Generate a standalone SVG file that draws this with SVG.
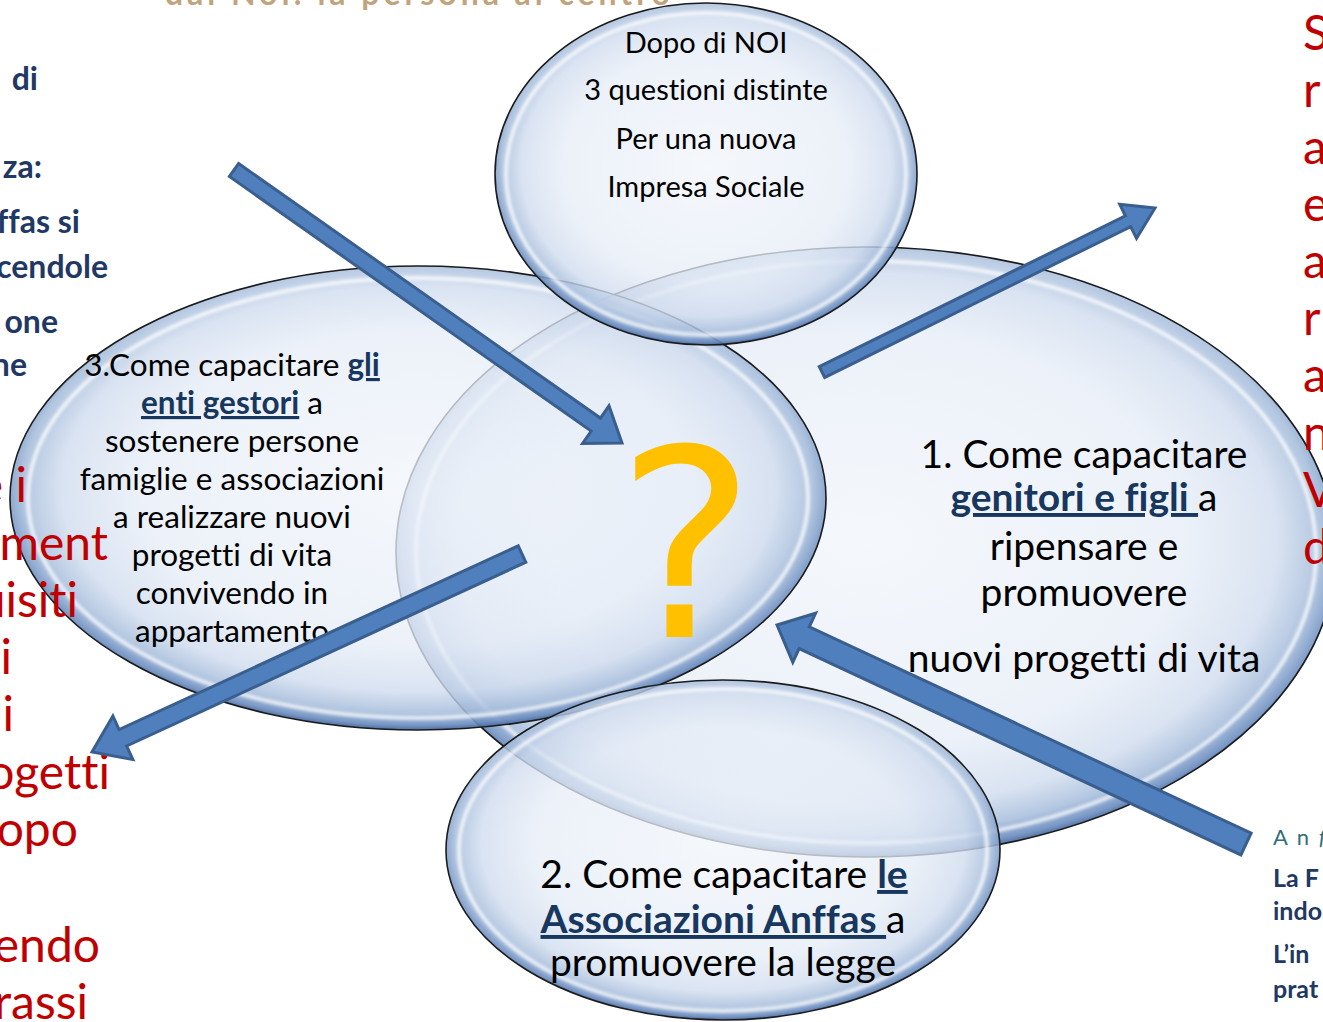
<svg xmlns="http://www.w3.org/2000/svg" width="1323" height="1022" viewBox="0 0 1323 1022">
<style>
text{font-variant-ligatures:none}
.bub{fill:url(#bubG);stroke:#1b1b1b;stroke-width:1.6}
.rim{fill:none;stroke:#ffffff;stroke-opacity:0.75;stroke-width:4}
.nt{font-family:Lato,"Open Sans",sans-serif;fill:#000;text-anchor:middle}
.ul{font-weight:bold;fill:#17375e;text-decoration:underline}
.red{font-family:Lato,"Open Sans",sans-serif;font-size:48px;fill:#c00000}
.navy{font-family:Lato,"Open Sans",sans-serif;font-size:32px;font-weight:bold;fill:#1f3864;text-anchor:end}
.br{font-family:Lato,"Open Sans",sans-serif;font-size:25px;font-weight:bold;fill:#1f3864}
.arr{fill:#4f7fbc;stroke:#3a5f8e;stroke-width:3;stroke-linejoin:miter}
</style>
<defs>
<radialGradient id="bubG" cx="50%" cy="48%" r="52%">
<stop offset="0%" stop-color="#f1f5fb" stop-opacity="0.75"/>
<stop offset="65%" stop-color="#e6edf7" stop-opacity="0.75"/>
<stop offset="84%" stop-color="#d0dcee" stop-opacity="0.8"/>
<stop offset="93%" stop-color="#a5bcdb" stop-opacity="0.85"/>
<stop offset="98%" stop-color="#6a8cbf" stop-opacity="0.9"/>
<stop offset="100%" stop-color="#46689b" stop-opacity="0.95"/>
</radialGradient>
<filter id="bl" x="-5%" y="-5%" width="110%" height="110%"><feGaussianBlur stdDeviation="1.5"/></filter>
</defs>
<rect width="1323" height="1022" fill="#ffffff"/>

<text x="165" y="5" font-family="Lato,sans-serif" font-size="32" font-weight="bold" fill="#b08a58" fill-opacity="0.8" textLength="505">dal Noi: la persona al centro</text>

<g id="node-right">
<ellipse class="bub" cx="866" cy="552" rx="470" ry="305"/>
<ellipse class="rim" cx="866" cy="552" rx="450" ry="291" filter="url(#bl)"/>
</g>
<g id="node-left">
<ellipse class="bub" cx="418" cy="498" rx="408" ry="232"/>
<ellipse class="rim" cx="418" cy="498" rx="390" ry="220" filter="url(#bl)"/>
</g>
<g id="node-bottom">
<ellipse class="bub" cx="723" cy="850" rx="277" ry="170"/>
<ellipse class="rim" cx="723" cy="850" rx="264" ry="161" filter="url(#bl)"/>
</g>
<g id="node-top">
<ellipse class="bub" cx="706" cy="174" rx="211" ry="171"/>
<ellipse class="rim" cx="706" cy="174" rx="200" ry="161" filter="url(#bl)"/>
</g>

<g id="bg-text-left">
<text class="navy" x="38" y="90">di</text>
<text class="navy" x="42" y="178">za:</text>
<text class="navy" x="80" y="233">ffas si</text>
<text class="navy" x="108" y="278">cendole</text>
<text class="navy" x="58" y="333">one</text>
<text class="navy" x="27" y="376">ne</text>
<g class="red" text-anchor="end">
<text x="27" y="502">e i</text>
<text x="108" y="560">ment</text>
<text x="78" y="617">uisiti</text>
<text x="12" y="674">i</text>
<text x="14" y="731">li</text>
<text x="110" y="789">ogetti</text>
<text x="78" y="846">opo</text>
<text x="100" y="962">endo</text>
<text x="88" y="1019">rassi</text>
</g>
</g>
<g id="bg-text-right" class="red" font-size="50">
<text x="1303" y="50">S</text>
<text x="1303" y="107">r</text>
<text x="1303" y="164">a</text>
<text x="1303" y="221">e</text>
<text x="1303" y="278">a</text>
<text x="1303" y="335">r</text>
<text x="1303" y="392">a</text>
<text x="1303" y="450">n</text>
<text x="1303" y="507">V</text>
<text x="1303" y="564">d</text>
</g>
<g id="bg-text-bottomright">
<text x="1273" y="845" font-family="Lato,sans-serif" font-size="22" fill="#31707a" letter-spacing="2">A n <tspan font-style="italic">f</tspan></text>
<text class="br" x="1273" y="887">La F</text>
<text class="br" x="1273" y="920">indo</text>
<text class="br" x="1273" y="963">L’in</text>
<text class="br" x="1273" y="998">prat</text>
</g>

<g id="label-top" class="nt" font-size="29">
<text x="706" y="53">Dopo di NOI</text>
<text x="706" y="100">3 questioni distinte</text>
<text x="706" y="149">Per una nuova</text>
<text x="706" y="197">Impresa Sociale</text>
</g>
<g id="label-left" class="nt" font-size="31.5">
<text x="232" y="376">3.Come capacitare <tspan class="ul">gli</tspan></text>
<text x="232" y="414"><tspan class="ul">enti gestori</tspan> a</text>
<text x="232" y="452">sostenere persone</text>
<text x="232" y="490">famiglie e associazioni</text>
<text x="232" y="528">a realizzare nuovi</text>
<text x="232" y="566">progetti di vita</text>
<text x="232" y="604">convivendo in</text>
<text x="232" y="642">appartamento</text>
</g>
<g id="label-right" class="nt" font-size="39">
<text x="1084" y="468">1. Come capacitare</text>
<text x="1084" y="511"><tspan class="ul">genitori e figli </tspan>a</text>
<text x="1084" y="560">ripensare e</text>
<text x="1084" y="606">promuovere</text>
<text x="1084" y="672">nuovi progetti di vita</text>
</g>
<g id="label-bottom" class="nt" font-size="39">
<text x="724" y="888">2. Come capacitare <tspan class="ul">le</tspan></text>
<text x="723" y="933"><tspan class="ul">Associazioni Anffas </tspan>a</text>
<text x="723" y="976">promuovere la legge</text>
</g>
<g id="node-center">
<text x="686" y="637" font-family="'DejaVu Sans',sans-serif" font-size="262" fill="#ffc000" text-anchor="middle">?</text>
</g>

<g id="connectors">
<polygon class="arr" points="238.6,163.5 600.4,418.1 609.0,405.8 622,443 582.6,443.4 591.2,431.1 229.4,176.5"/>
<polygon class="arr" points="819.3,366.6 1125.4,215.9 1119.7,204.3 1155,208 1136.5,238.3 1130.7,226.7 824.7,377.4"/>
<polygon class="arr" points="518.2,545.8 119.1,729.6 112.9,716.0 92,752 132.9,759.6 126.7,746.0 525.8,562.2"/>
<polygon class="arr" points="1251.1,833.1 809.3,626.8 815.6,613.2 777,625 792.8,662.2 799.1,648.6 1240.9,854.9"/>
</g>
</svg>
